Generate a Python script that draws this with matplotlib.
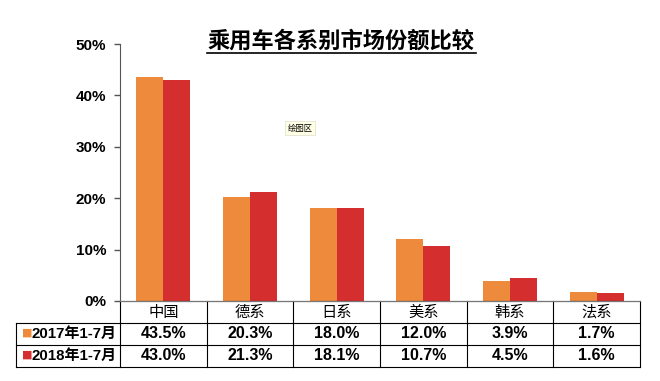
import matplotlib.pyplot as plt
import numpy as np

plt.rcParams['font.family'] = ['Liberation Sans', 'Noto Sans CJK SC', 'DejaVu Sans']

categories = ["中国", "德系", "日系", "美系", "韩系", "法系"]
series_names = ["2017年1-7月", "2018年1-7月"]
share_2017 = [43.5, 20.3, 18.0, 12.0, 3.9, 1.7]
share_2018 = [43.0, 21.3, 18.1, 10.7, 4.5, 1.6]
colors = ["#EE8A3C", "#D42E2E"]

fig = plt.figure(figsize=(6.6, 3.81), dpi=100)
W, H = 660, 381
ax_l, ax_r, ax_t, ax_b = 120, 640, 44, 301
ax = fig.add_axes([ax_l / W, 1 - ax_b / H, (ax_r - ax_l) / W, (ax_b - ax_t) / H])

x = np.arange(len(categories))
bw = 0.31
ax.bar(x - bw / 2, np.array(share_2017) / 100, bw, color=colors[0])
ax.bar(x + bw / 2, np.array(share_2018) / 100, bw, color=colors[1])

ax.set_xlim(-0.5, len(categories) - 0.5)
ax.set_ylim(0, 0.5)
ax.set_yticks(np.arange(0, 0.51, 0.1))
ax.set_yticklabels([f"{int(round(v * 100))}%" for v in np.arange(0, 0.51, 0.1)],
                   fontsize=11, fontweight='bold')
ax.tick_params(axis='y', direction='out', length=4, width=1, color='#555555', pad=6)
ax.set_xticks([])
for s in ['top', 'right']:
    ax.spines[s].set_visible(False)
ax.spines['left'].set_color('#555555')
ax.spines['bottom'].set_color('#777777')

# title
fig.text(341 / W, 1 - 41 / H, "乘用车各系别市场份额比较", ha='center', va='center',
         fontsize=16, fontweight='bold', family=['Noto Sans CJK SC'])
fig.add_artist(plt.Line2D([207 / W, 476 / W], [1 - 53 / H, 1 - 53 / H], color='black', lw=1.2))

# tooltip
fig.text(300 / W, 1 - 128 / H, "绘图区", ha='center', va='center', fontsize=6,
         family=['Noto Sans CJK SC'],
         bbox=dict(boxstyle='square,pad=0.3', fc='#FFFFE6', ec='#DDDDCC', lw=0.5))

# data table below the plot
tr = ax.get_xaxis_transform()
ph = ax_b - ax_t
rows_px = [0, 22, 44, 66]
ry = [-r / ph for r in rows_px]
left_x = -0.5 - (ax_l - 16) / ((ax_r - ax_l) / len(categories))
lk = dict(color='black', lw=0.8, transform=tr, clip_on=False)
# horizontal lines
ax.plot([-0.5, len(categories) - 0.5], [ry[0], ry[0]], **lk)
for yy in ry[1:]:
    ax.plot([left_x, len(categories) - 0.5], [yy, yy], **lk)
# vertical lines
ax.plot([left_x, left_x], [ry[1], ry[3]], **lk)
for i in range(len(categories) + 1):
    ax.plot([i - 0.5, i - 0.5], [ry[0], ry[3]], **lk)

for i, c in enumerate(categories):
    ax.text(i, (ry[0] + ry[1]) / 2, c, transform=tr, ha='center', va='center',
            fontsize=11, family=['Noto Sans CJK SC'])
    ax.text(i, (ry[1] + ry[2]) / 2, f"{share_2017[i]:.1f}%", transform=tr,
            ha='center', va='center', fontsize=11.5, fontweight='bold')
    ax.text(i, (ry[2] + ry[3]) / 2, f"{share_2018[i]:.1f}%", transform=tr,
            ha='center', va='center', fontsize=11.5, fontweight='bold')

for k, name in enumerate(series_names):
    yc = (ry[k + 1] + ry[k + 2]) / 2
    ax.text(left_x + 0.07, yc + 0.006, "■", transform=tr, ha='left', va='center',
            fontsize=8, color=colors[k], family=['DejaVu Sans'])
    ax.text(left_x + 0.18, yc, name, transform=tr, ha='left', va='center',
            fontsize=10.8, fontweight='bold', family=['Liberation Sans', 'Noto Sans CJK SC'])

fig.savefig("out.png", dpi=100)
